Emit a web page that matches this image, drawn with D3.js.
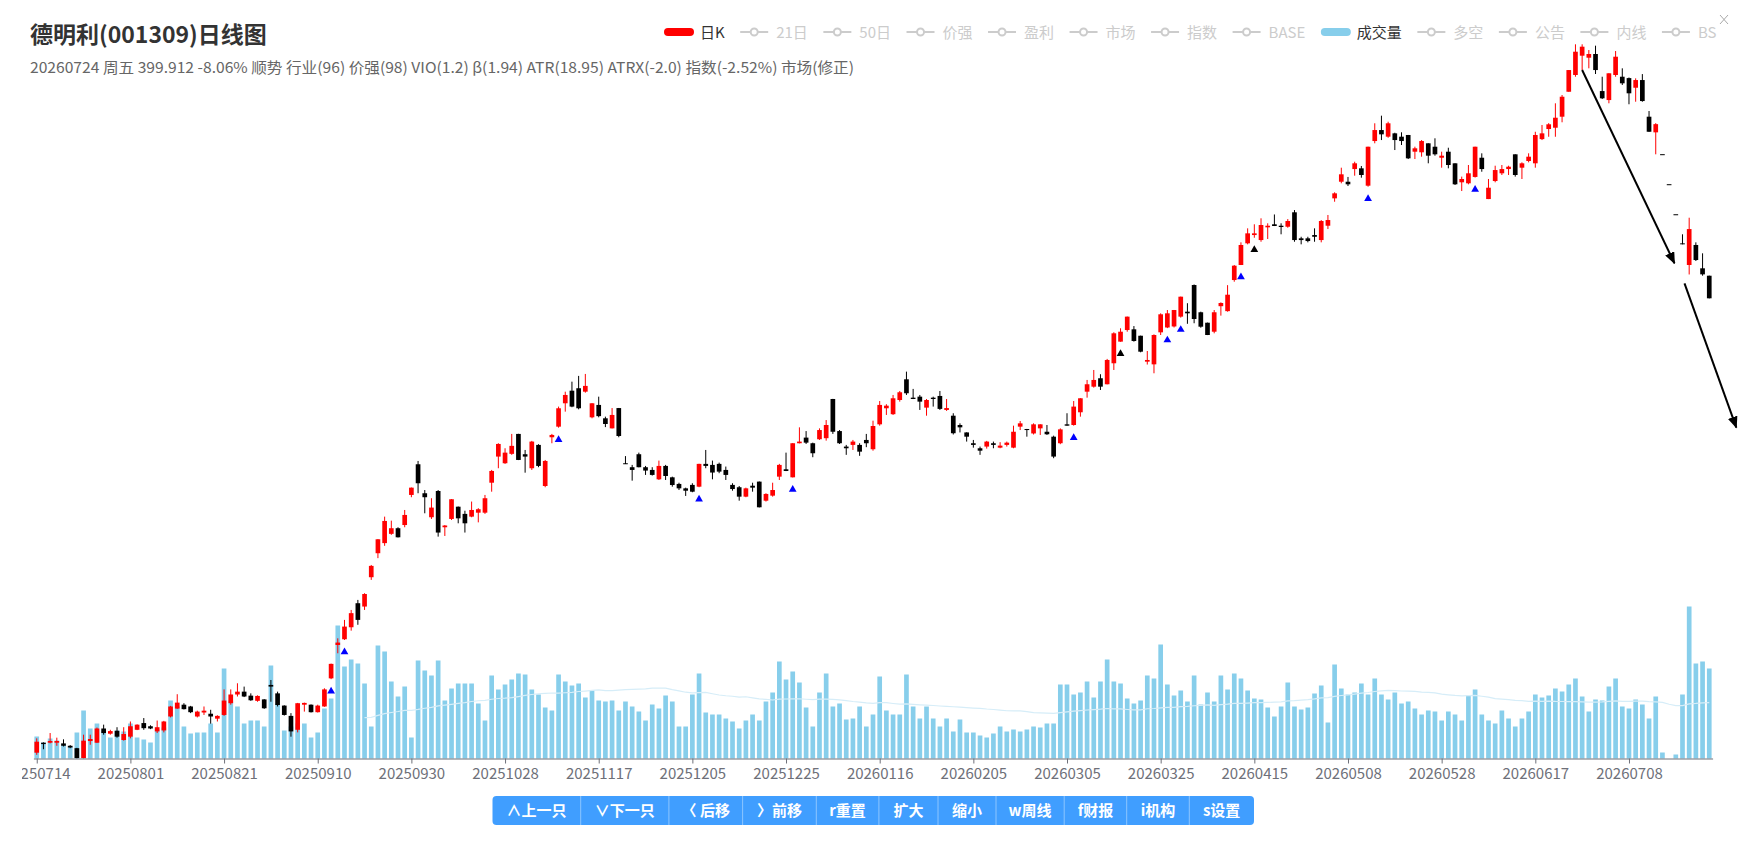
<!DOCTYPE html>
<html>
<head>
<meta charset="utf-8">
<script src="https://d3js.org/d3.v7.min.js"></script>
<style>
  html, body { margin: 0; padding: 0; background: #fff; }
  svg { display: block; font-family: "Noto Sans CJK SC", "Noto Sans", sans-serif; }
</style>
</head>
<body>
<div id="chart"></div>
<script>
// 德明利(001309) daily candles, 20250714 .. 20260724 (251 trading days)
const open = [81.2,84.1,84.1,84.1,83.9,83.2,82.5,79.7,84.6,84.1, 88.4,86.8,87.7,84.9,85.9,88.0,90.1,89.1,87.5,87.8,
  92.2,94.8,96.1,95.5,92.2,93.5,93.1,91.5,92.7,96.6, 99.6,100.6,99.2,97.4,97.9,103.0,100.0,95.8,92.4,88.0,
  96.1,96.1,93.6,95.5,105.4,118.5,120.9,126.1,137.2,135.6, 150.3,163.5,169.4,175.0,178.5,180.5,200.6,223.4,201.8,185.5,
  203.4,179.1,184.4,192.5,187.7,185.9,188.5,188.5,209.4,229.5, 224.2,231.7,248.5,231.4,220.3,239.1,207.0,245.6,254.9,276.7,
  289.2,291.7,288.2,263.4,275.1,262.5,253.4,272.1,224.2,221.1, 231.4,221.1,219.0,211.9,222.1,213.4,208.5,205.3,207.8,206.5,
  223.7,222.9,223.7,219.0,207.8,206.1,199.4,207.2,210.2,196.6, 200.1,213.9,219.5,213.4,240.5,245.3,240.5,243.9,244.8,280.9,
  251.0,237.7,239.1,239.1,243.3,235.5,257.0,271.9,266.3,279.9, 301.0,282.2,283.2,272.5,282.2,283.9,270.3,264.9,256.4,249.8,
  240.5,236.3,237.7,240.5,236.8,239.1,236.8,254.9,252.8,248.9, 253.4,250.4,246.1,240.5,257.0,256.4,268.1,288.2,293.3,302.1,
  295.8,318.4,343.5,357.8,358.7,350.7,320.2,317.2,354.9,361.0, 362.3,375.0,381.6,419.0,380.8,367.1,355.7,389.0,382.3,426.4,
  449.5,485.0,499.3,490.6,513.0,518.5,515.9,514.1,540.8,493.6, 493.6,499.3,490.6,515.9,567.9,602.0,602.0,629.4,631.0,593.7,
  694.4,721.7,705.1,713.4,705.1,709.3,668.9,667.5,688.9,680.7, 654.9,668.9,642.2,600.8,598.7,612.2,654.9,566.5,603.5,620.1,
  629.4,662.8,632.4,647.4,642.2,699.1,724.3,727.6,756.3,825.5, 875.5,936.8,930.2,942.4,827.5,801.8,875.5,870.2,866.0,837.2,
  860.1,756.3,715.9,663.1,596.8,537.1,485.0,449.5,482.2,444.3, 432.9];
const high = [85.4,84.2,87.0,85.6,85.1,83.4,82.6,86.5,86.5,88.7, 89.6,88.0,88.8,88.8,90.6,89.7,91.7,89.4,90.9,90.8,
  95.7,99.7,96.6,95.7,94.1,95.5,94.4,92.6,101.4,101.4, 103.6,102.4,100.0,99.3,98.0,104.8,100.6,95.9,93.3,96.7,
  96.8,96.2,96.1,101.8,111.0,121.3,129.4,134.0,138.8,142.1, 156.9,171.8,185.9,183.3,179.1,190.3,205.9,226.0,204.1,198.3,
  204.1,180.5,197.7,192.6,189.8,196.0,191.5,200.6,219.0,240.5, 236.3,248.5,248.6,234.9,242.5,239.7,226.8,248.5,273.5,288.2,
  298.5,304.6,306.7,276.8,283.2,264.0,272.1,272.2,229.9,222.9, 232.7,222.1,221.1,226.3,222.9,213.9,209.4,205.8,209.0,223.8,
  234.9,226.3,224.7,221.6,209.0,207.0,205.8,209.4,210.3,201.8, 209.4,223.7,232.7,240.6,254.3,251.0,241.0,253.4,260.9,281.0,
  251.9,239.1,243.3,240.5,248.5,260.3,278.9,275.8,284.9,288.9, 309.2,291.0,284.9,280.9,283.2,288.9,280.9,267.2,257.9,249.9,
  243.3,237.7,242.5,241.9,241.4,241.9,255.8,260.0,252.9,257.9, 257.1,256.4,247.0,253.4,267.2,278.9,281.7,300.3,311.0,306.4,
  323.3,355.0,360.0,375.1,362.8,350.8,332.4,352.4,379.4,383.8, 383.9,402.3,393.1,419.8,381.6,367.2,383.8,394.3,418.8,449.5,
  486.7,511.2,518.5,529.5,520.3,536.7,520.3,528.1,545.1,496.3, 496.3,511.2,526.3,535.7,580.1,632.4,612.2,645.8,636.2,680.8,
  739.0,759.0,743.1,714.9,716.0,709.4,680.8,696.8,689.0,701.1, 668.9,678.3,642.3,612.9,638.4,680.8,665.1,607.8,636.8,638.4,
  636.8,662.9,644.4,665.1,717.4,734.6,739.4,792.7,816.1,890.9, 975.0,975.0,955.6,970.3,870.2,880.8,952.3,896.2,867.8,865.3,
  878.3,771.5,739.4,663.1,596.8,537.1,500.6,530.6,486.7,468.3, 433.0];
const low = [80.6,82.2,83.9,83.2,83.0,82.5,79.6,79.6,83.5,84.0, 86.5,86.5,85.6,84.7,85.4,87.9,88.0,88.2,87.0,87.2,
  91.9,94.7,94.5,93.3,91.9,92.7,89.9,90.6,92.4,96.1, 98.9,98.7,97.4,97.1,94.7,97.1,95.5,92.5,85.9,87.2,
  93.8,93.5,93.5,95.4,105.1,115.1,120.6,124.6,127.2,134.0, 148.9,160.7,167.8,174.4,172.8,179.1,199.0,201.8,188.1,184.4,
  173.3,173.7,183.7,181.6,175.8,185.5,182.2,187.7,202.9,220.3, 223.7,230.9,226.7,216.9,219.0,221.1,206.1,240.5,254.0,268.7,
  272.9,270.9,287.2,262.5,263.4,254.5,253.3,245.6,223.6,210.9, 221.0,215.2,214.7,211.4,211.4,206.5,204.1,199.9,202.5,206.1,
  220.3,211.9,216.5,211.4,203.6,196.6,199.0,202.9,192.0,196.0, 199.4,211.4,218.1,213.3,240.4,239.9,229.0,243.3,242.7,248.5,
  239.9,230.9,234.9,230.1,237.2,234.3,255.8,265.6,265.6,278.3, 284.9,280.8,270.3,264.9,273.5,270.3,269.4,248.0,249.8,241.9,
  236.8,230.9,236.0,236.3,236.3,237.7,236.3,251.9,246.1,248.0, 247.6,247.6,228.2,239.7,255.7,255.8,264.0,282.2,292.3,289.9,
  295.7,311.0,343.4,355.7,343.5,330.9,317.0,307.4,351.6,360.2, 361.0,373.7,365.7,366.4,360.7,351.5,353.7,376.3,381.6,423.9,
  449.4,483.3,494.6,487.7,492.4,515.3,500.6,512.3,487.7,483.3, 486.7,487.7,486.7,509.9,561.2,598.7,593.0,614.9,610.6,591.6,
  688.9,696.8,702.4,672.8,684.8,651.9,651.9,657.3,642.2,659.6, 632.4,631.0,595.2,582.7,596.6,610.9,623.5,566.4,600.8,616.4,
  616.4,612.9,607.8,644.4,632.4,696.8,704.9,704.9,741.6,825.4, 870.2,890.8,896.2,878.5,804.7,792.7,870.2,845.3,790.0,797.1,
  797.1,717.3,662.8,663.1,596.8,537.1,483.3,434.8,455.8,432.9, 399.8];
const close = [84.4,83.7,84.6,84.6,83.2,82.7,79.7,84.7,85.2,88.4, 87.0,87.6,85.9,86.7,89.1,89.6,88.5,88.4,88.8,90.6,
  95.5,96.8,94.6,93.6,93.8,94.1,92.2,92.4,97.5,99.6, 100.6,98.9,97.6,99.1,94.9,102.4,96.0,92.7,87.5,96.6,
  96.7,93.6,95.8,101.4,110.9,119.5,126.4,132.5,129.4,141.7, 156.4,171.7,183.1,178.5,172.9,187.0,205.8,209.0,199.0,191.9,
  175.8,180.2,197.6,184.8,181.6,190.3,190.8,198.3,218.2,239.9, 232.7,238.3,226.8,229.5,241.9,222.1,226.0,247.6,271.9,284.9,
  273.5,271.9,294.1,276.7,264.5,257.3,265.6,246.7,223.7,219.0, 221.1,218.5,215.2,222.1,214.4,207.7,205.3,203.6,202.9,223.7,
  222.1,217.0,217.7,215.2,204.8,199.4,205.3,205.8,192.1,201.3, 204.1,222.9,218.2,240.5,241.9,241.0,232.2,251.9,256.4,250.4,
  240.5,236.3,241.9,233.5,240.5,255.5,275.1,274.4,281.6,287.6, 286.6,280.9,278.3,279.9,280.9,271.3,272.1,249.1,254.3,246.1,
  239.1,234.3,241.9,239.1,238.5,241.0,250.4,257.9,251.9,257.0, 257.0,248.2,229.5,252.5,255.8,273.5,281.6,295.8,300.3,293.3,
  322.1,353.7,355.7,375.0,344.3,331.6,322.1,351.6,378.1,379.4, 383.8,402.2,379.4,371.9,362.0,351.6,380.8,393.4,405.0,448.4,
  482.2,502.3,502.3,517.2,515.9,515.4,513.6,524.5,490.6,490.6, 488.9,496.3,524.5,526.3,578.0,617.9,596.6,642.2,616.4,680.7,
  721.7,710.9,739.0,696.8,694.4,653.5,676.9,694.4,659.6,662.8, 659.6,638.4,596.6,607.8,620.1,680.7,629.4,589.5,627.2,629.4,
  634.6,616.4,642.2,657.3,709.3,713.4,736.4,753.6,811.2,890.8, 950.0,966.9,942.4,890.8,806.7,880.7,933.5,850.3,821.0,860.1,
  799.0,717.4,736.8,663.1,596.8,537.1,483.3,509.9,457.4,434.97, 399.912];
// 成交量 (万手)
const volume = [2.2,1.6,2.0,1.8,1.4,1.2,2.6,4.8,3.0,3.5, 2.8,2.1,2.8,2.7,3.5,2.1,1.9,1.6,2.9,3.1,
  5.8,5.2,3.2,2.5,2.6,2.6,3.5,2.6,9.0,5.8, 5.2,3.5,3.8,3.8,3.2,9.3,5.5,2.8,3.2,3.5,
  3.5,2.1,2.6,5.0,6.0,13.3,9.2,9.9,9.5,7.5, 3.2,11.3,10.7,7.7,6.2,7.2,2.1,9.8,8.8,8.3,
  9.8,5.8,7.0,7.5,7.5,7.5,5.5,3.8,8.3,6.9, 7.4,7.9,8.5,8.4,6.9,6.4,5.1,4.8,8.4,7.7,
  7.3,7.5,6.1,6.8,5.8,5.7,5.8,4.8,5.7,5.2, 4.7,3.8,5.4,5.0,6.3,5.7,3.2,3.2,6.4,8.5,
  4.6,4.4,4.4,4.0,3.7,3.0,3.8,4.4,3.8,5.7, 6.6,9.7,7.9,8.7,7.6,5.1,3.2,6.6,8.5,5.2,
  5.5,3.9,4.0,5.2,3.2,4.4,8.2,4.8,4.4,4.4, 8.4,5.2,4.0,5.2,4.0,3.2,4.0,2.7,3.9,2.6,
  2.6,2.3,2.1,2.5,3.2,2.7,2.9,2.7,2.9,3.2, 3.1,3.5,3.5,7.4,7.4,6.4,6.6,7.7,6.1,7.7,
  9.9,7.7,7.5,6.0,5.5,5.8,8.3,8.0,11.4,7.4, 6.3,6.8,5.7,8.3,5.4,6.6,5.7,8.3,6.9,8.5,
  8.0,6.8,6.0,5.9,5.1,4.2,5.2,7.6,5.2,4.9, 5.1,6.5,7.3,3.6,9.4,7.0,6.4,6.6,7.5,6.4,
  8.0,6.4,5.9,6.6,5.5,5.7,5.0,4.4,4.8,4.7, 3.8,4.7,4.4,3.8,6.3,6.9,4.4,3.8,3.5,4.8,
  4.0,3.2,4.0,4.7,6.4,6.1,6.3,7.0,6.7,7.4, 8.0,6.2,4.7,5.9,5.8,7.2,8.0,5.2,5.0,5.9,
  5.4,4.0,6.2,0.6,0,0.4,6.4,15.2,9.5,9.7, 9.0];

const tickLabels = ['20250714','20250801','20250821','20250910','20250930','20251028','20251117','20251205','20251225',
  '20260116','20260205','20260305','20260325','20260415','20260508','20260528','20260617','20260708'];
const tickEvery = 14;

// signal markers under candles
const blueMarks = [44, 46, 78, 99, 113, 155, 169, 171, 180, 199, 215];
const blackMarks = [162, 182];

// trend arrows, [day index, price]
const arrows = [
  [[231, 890.8], [244.8, 452.2]],
  [[246.3, 421.4], [254.05, 254.0]]
];

const legendItems = [
  { name: '日K', kind: 'bar', color: '#ff0000', on: true },
  { name: '21日', kind: 'line', on: false },
  { name: '50日', kind: 'line', on: false },
  { name: '价强', kind: 'line', on: false },
  { name: '盈利', kind: 'line', on: false },
  { name: '市场', kind: 'line', on: false },
  { name: '指数', kind: 'line', on: false },
  { name: 'BASE', kind: 'line', on: false },
  { name: '成交量', kind: 'bar', color: '#87ceeb', on: true },
  { name: '多空', kind: 'line', on: false },
  { name: '公告', kind: 'line', on: false },
  { name: '内线', kind: 'line', on: false },
  { name: 'BS', kind: 'line', on: false }
];

const buttons = ['∧上一只', '∨下一只', '〈 后移', '〉前移', 'r重置', '扩大', '缩小', 'w周线', 'f财报', 'i机构', 's设置'];
const buttonWidths = [88.2, 88.2, 73.7, 73.7, 62.6, 59.1, 58, 68.2, 62.5, 62.6, 64.7];

const title = '德明利(001309)日线图';
const subtitle = '20260724 周五 399.912 -8.06% 顺势 行业(96) 价强(98) VIO(1.2) β(1.94) ATR(18.95) ATRX(-2.0) 指数(-2.52%) 市场(修正)';

const W = 1751, H = 848;
const n = close.length;
const svg = d3.select('#chart').append('svg').attr('width', W).attr('height', H);
svg.append('rect').attr('width', W).attr('height', H).attr('fill', '#fff');

const x = d3.scaleLinear().domain([-0.5, n - 0.5]).range([33.4, 1712.6]);
const step = x(1) - x(0);
const bodyW = step * 0.7;
const y = d3.scaleLog().domain([76.42, 1025.2]).range([770, 30]);
const yv = d3.scaleLinear().domain([0, 16]).range([758.5, 598.5]);

// volume
svg.append('g').selectAll('rect')
  .data(volume)
  .enter().append('rect')
  .attr('x', (d, i) => x(i) - bodyW / 2)
  .attr('y', d => yv(d))
  .attr('width', bodyW)
  .attr('height', d => yv(0) - yv(d))
  .attr('fill', '#87ceeb');

// 50 day average of volume
const ma = volume.map((d, i) => i < 49 ? null : d3.mean(volume.slice(i - 49, i + 1)));
svg.append('path')
  .datum(ma)
  .attr('fill', 'none')
  .attr('stroke', '#d6edf8')
  .attr('stroke-width', 1.2)
  .attr('d', d3.line().defined(d => d != null).x((d, i) => x(i)).y(d => yv(d)));

// candles
const candles = d3.range(n).map(i => ({ i: i, o: open[i], h: high[i], l: low[i], c: close[i] }));
const col = d => d.c > d.o ? '#ff0000' : '#000000';
const cg = svg.append('g').selectAll('g').data(candles).enter().append('g');
cg.append('line')
  .attr('x1', d => x(d.i)).attr('x2', d => x(d.i))
  .attr('y1', d => y(d.h)).attr('y2', d => y(d.l))
  .attr('stroke', col).attr('stroke-width', 1);
cg.append('rect')
  .attr('x', d => x(d.i) - bodyW / 2)
  .attr('y', d => y(Math.max(d.o, d.c)))
  .attr('width', bodyW)
  .attr('height', d => Math.max(1, y(Math.min(d.o, d.c)) - y(Math.max(d.o, d.c))))
  .attr('fill', col);

// markers
const tri = d3.symbol(d3.symbolTriangle, 26);
function marks(list, color) {
  svg.append('g').selectAll('path').data(list).enter().append('path')
    .attr('d', tri)
    .attr('transform', i => 'translate(' + x(i) + ',' + (y(low[i]) + 12) + ')')
    .attr('fill', color);
}
marks(blueMarks, '#0000ff');
marks(blackMarks, '#000000');

// arrows
svg.append('defs').append('marker')
  .attr('id', 'head').attr('viewBox', '0 0 12 10')
  .attr('refX', 11).attr('refY', 5)
  .attr('markerWidth', 12).attr('markerHeight', 10)
  .attr('markerUnits', 'userSpaceOnUse')
  .attr('orient', 'auto')
  .append('path').attr('d', 'M0,0 L12,5 L0,10 z').attr('fill', '#000');
svg.append('g').selectAll('line').data(arrows).enter().append('line')
  .attr('x1', d => x(d[0][0])).attr('y1', d => y(d[0][1]))
  .attr('x2', d => x(d[1][0])).attr('y2', d => y(d[1][1]))
  .attr('stroke', '#000').attr('stroke-width', 2)
  .attr('marker-end', 'url(#head)');

// x axis (first label is cut at the left edge)
svg.append('clipPath').attr('id', 'axclip').append('rect')
  .attr('x', 22).attr('y', -10).attr('width', W - 22).attr('height', 50);
const tickIdx = tickLabels.map((d, k) => k * tickEvery);
const axis = svg.append('g')
  .attr('transform', 'translate(0,758.5)')
  .attr('clip-path', 'url(#axclip)')
  .call(d3.axisBottom(x).tickValues(tickIdx).tickFormat((d, k) => tickLabels[k]).tickSize(5).tickSizeOuter(0).tickPadding(5));
axis.select('.domain').attr('stroke', '#6e7079');
axis.selectAll('.tick line').attr('stroke', '#6e7079');
axis.selectAll('text').attr('fill', '#6e7079').attr('font-size', 15).attr('font-family', '"Noto Sans CJK SC", sans-serif');

// title
svg.append('text').attr('x', 30).attr('y', 43)
  .attr('font-size', 23).attr('font-weight', 'bold').attr('fill', '#333').text(title);
svg.append('text').attr('x', 30).attr('y', 73)
  .attr('font-size', 15).attr('fill', '#666')
  .attr('textLength', 824).attr('lengthAdjust', 'spacingAndGlyphs').text(subtitle);

// legend
const lg = svg.append('g').attr('font-size', 15);
let lx = 664;
legendItems.forEach(it => {
  const g = lg.append('g').attr('transform', 'translate(' + lx + ',32)');
  if (it.kind === 'bar') {
    g.append('rect').attr('x', 0).attr('y', -4).attr('width', 30).attr('height', 8).attr('rx', 4)
      .attr('fill', it.color);
  } else {
    g.append('line').attr('x1', 0).attr('x2', 28).attr('y1', 0).attr('y2', 0)
      .attr('stroke', '#ccc').attr('stroke-width', 2);
    g.append('circle').attr('cx', 14).attr('cy', 0).attr('r', 3.5)
      .attr('fill', '#fff').attr('stroke', '#ccc').attr('stroke-width', 2);
  }
  const t = g.append('text').attr('x', 36).attr('y', 5.5)
    .attr('fill', it.on ? '#333' : '#ccc').text(it.name);
  lx += 36 + t.node().getComputedTextLength() + 15.5;
});
svg.append('path').attr('d', 'M1720,15 L1728,24 M1728,15 L1720,24')
  .attr('stroke', '#aaa').attr('stroke-width', 1);

// buttons
const bg = svg.append('g').attr('transform', 'translate(492.5,796)');
const bx = d3.cumsum([0].concat(buttonWidths));
bg.append('rect').attr('width', bx[bx.length - 1]).attr('height', 29).attr('rx', 4).attr('fill', '#409eff');
bg.selectAll('line').data(bx.slice(1, -1)).enter().append('line')
  .attr('x1', d => d).attr('x2', d => d).attr('y1', 0).attr('y2', 29)
  .attr('stroke', '#8cc5ff').attr('stroke-width', 1);
bg.selectAll('text').data(buttons).enter().append('text')
  .attr('x', (d, k) => (bx[k] + bx[k + 1]) / 2).attr('y', 20)
  .attr('text-anchor', 'middle').attr('fill', '#fff')
  .attr('font-size', 15).attr('font-weight', 'bold').text(d => d);
</script>
</body>
</html>
